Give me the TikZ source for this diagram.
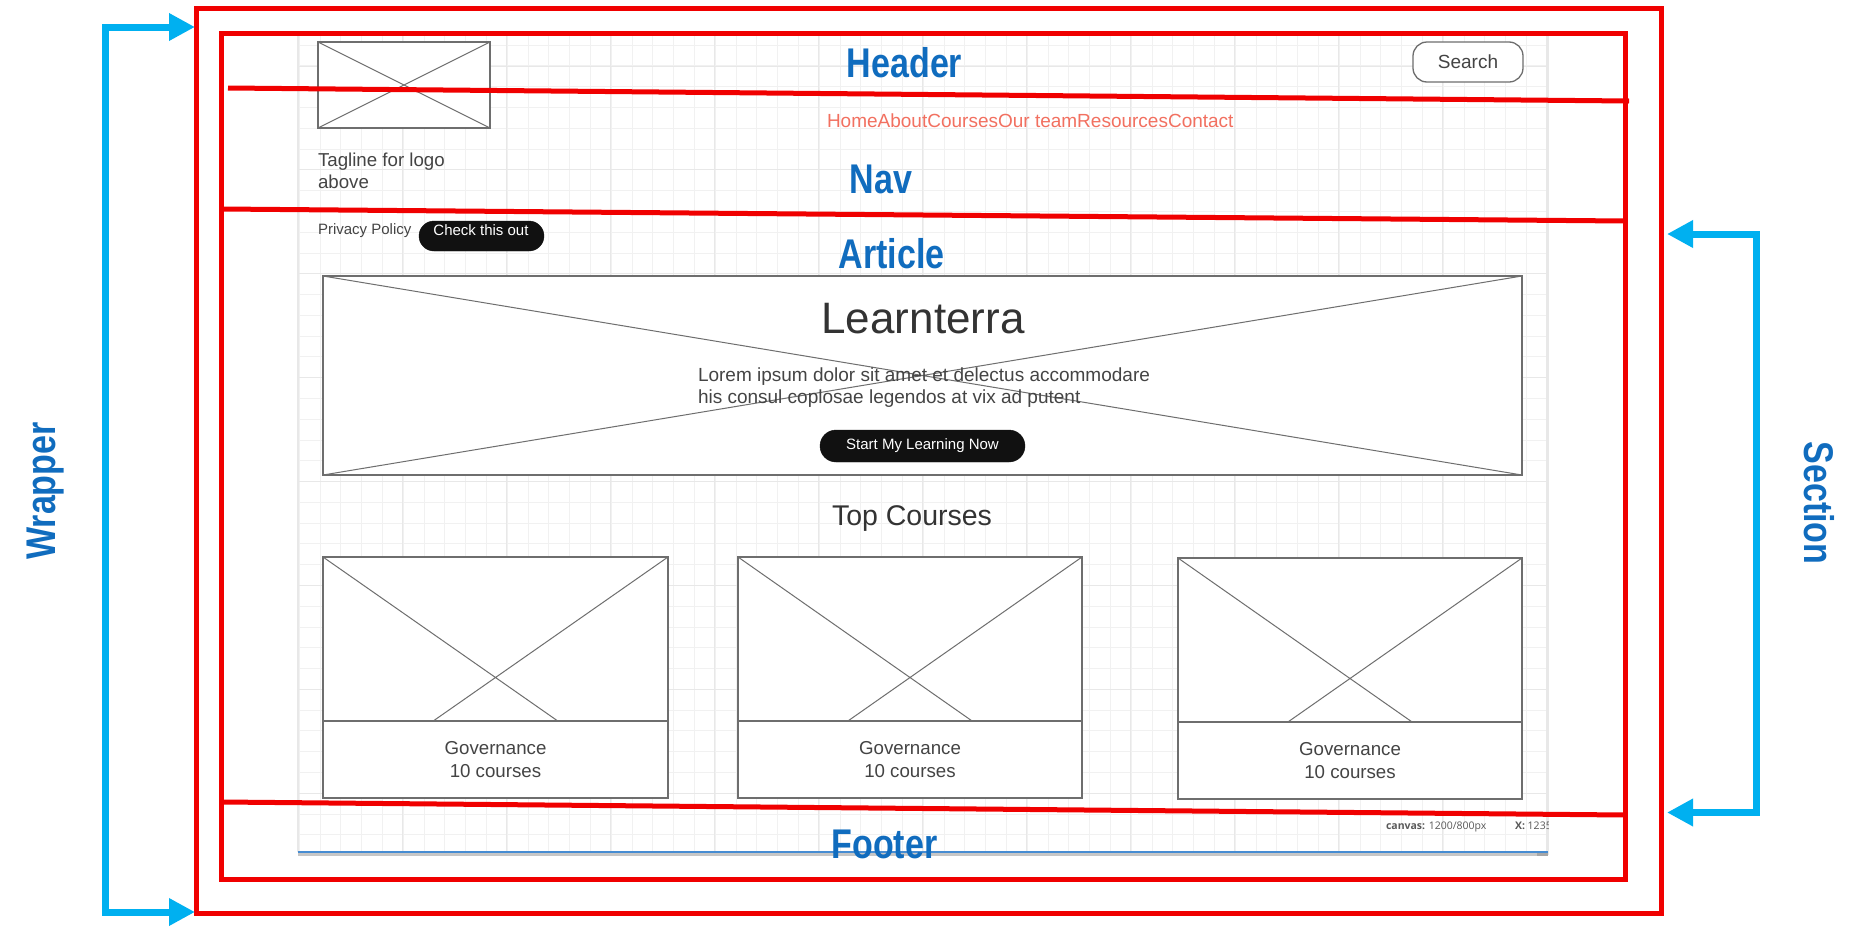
\documentclass[tikz,border=0pt]{standalone}
\usepackage{fontspec}
\setmainfont{Liberation Sans}
\newfontfamily\narrowfont{Liberation Sans}[FakeStretch=0.82]
\newfontfamily\uifont{Open Sans}
\usetikzlibrary{arrows.meta}
\definecolor{redc}{RGB}{240,0,0}
\definecolor{lblblue}{RGB}{16,108,190}
\definecolor{arrblue}{RGB}{0,176,240}
\definecolor{navc}{RGB}{242,112,96}
\definecolor{wiregray}{RGB}{110,110,110}
\definecolor{txtgray}{RGB}{68,68,68}
\definecolor{darktxt}{RGB}{51,51,51}
\definecolor{gridminor}{RGB}{241,241,241}
\definecolor{gridmajor}{RGB}{232,232,232}
\definecolor{pillblack}{RGB}{17,17,17}
\definecolor{barblue}{RGB}{70,140,210}
\newcommand\pxs[2]{\fontsize{#1}{#2}\selectfont}
\begin{document}
\begin{tikzpicture}[x=1pt,y=-1pt,
  redframe/.style={draw=redc, line width=5pt, inner sep=0pt, outer sep=0pt},
  redline/.style={draw=redc, line width=5pt},
  wirebox/.style={draw=wiregray, line width=1.3pt, fill=white, inner sep=0pt, outer sep=0pt},
  xline/.style={draw=wiregray, line width=1pt},
  pill/.style={fill=pillblack, draw=pillblack, inner sep=0pt, outer sep=0pt},
  wtxt/.style={inner sep=0pt, outer sep=0pt, text=txtgray},
  lbl/.style={inner sep=0pt, outer sep=0pt, text=lblblue, anchor=base, font=\narrowfont\bfseries\pxs{41.5}{41.5}},
  bluearrow/.style={draw=arrblue, line width=7pt, line join=miter,
     {Triangle[length=26pt,width=26pt]}-{Triangle[length=26pt,width=26pt]}},
  gminor/.style={draw=gridminor, line width=1pt},
  gmajor/.style={draw=gridmajor, line width=1pt}
]
\useasboundingbox (0,0) rectangle (1861,940);
\fill[white] (0,0) rectangle (1861,940);

% ---------- canvas grid ----------
\begin{scope}
  \clip (298,35) rectangle (1548,852);
  \foreach \i in {0,...,60} {\draw[gminor] ({299.2+20.8*\i},35) -- ++(0,817);}
  \foreach \j in {0,...,39} {\draw[gminor] (298,{45.2+20.78*\j}) -- ++(1250,0);}
  \foreach \i in {0,...,12} {\draw[gmajor] ({298.7+104*\i},35) -- ++(0,817);}
  \foreach \j in {0,...,8} {\draw[gmajor] (298,{66+103.9*\j}) -- ++(1250,0);}
\end{scope}
\draw[gridmajor, line width=1.2pt] (1548,35) -- (1548,855);
\draw[gridmajor, line width=1.2pt] (298,35) -- (298,852);
\fill[gray!45] (298,852.5) rectangle (1548,855.5);
\fill[gray!70] (1537,852.5) rectangle (1548,855.5);
\draw[barblue, line width=1.4pt] (298,852) -- (1548,852);

% ---------- wireframe: header / nav ----------
\node[wirebox, minimum width=172pt, minimum height=86pt] (logo) at (404,85) {};
\draw[xline] (logo.north west) -- (logo.south east) (logo.north east) -- (logo.south west);
\node[wtxt, anchor=base west, font=\pxs{18.7}{22}] (tag1) at (318,166) {Tagline for logo};
\node[wtxt, anchor=base west, font=\pxs{18.7}{22}] (tag2) at (318,188) {above};
\node[wirebox, rounded corners=14pt, minimum width=110pt, minimum height=40pt, text=txtgray, font=\pxs{19}{19}] (search) at (1468,62) {Search};
\node[wtxt, text=navc, anchor=base west, font=\pxs{19}{19}] (navlinks) at (827,127) {HomeAboutCoursesOur teamResourcesContact};
\node[wtxt, anchor=base west, font=\pxs{15}{15}] (privacy) at (318,234) {Privacy Policy};
\node[pill, rounded corners=15pt, minimum width=125pt, minimum height=30pt] (check) at (481.5,236) {};
\node[wtxt, text=white, anchor=base, font=\pxs{15}{15}] (checktxt) at (481,235) {Check this out};

% ---------- hero ----------
\node[wirebox, minimum width=1199pt, minimum height=199pt] (hero) at (922.5,375.5) {};
\draw[xline] (hero.north west) -- (hero.south east) (hero.north east) -- (hero.south west);
\node[wtxt, text=darktxt, anchor=base, font=\pxs{44}{44}] (title) at (923,333) {Learnterra};
\node[wtxt, anchor=base west, font=\pxs{19}{22}] (lorem1) at (698,381) {Lorem ipsum dolor sit amet et delectus accommodare};
\node[wtxt, anchor=base west, font=\pxs{19}{22}] (lorem2) at (698,403) {his consul coplosae legendos at vix ad putent};
\node[pill, rounded corners=16pt, minimum width=205pt, minimum height=32pt, text=white, font=\pxs{15}{15}] (start) at (922.5,446) {Start My Learning Now};

% ---------- top courses ----------
\node[wtxt, text=darktxt, anchor=base, font=\pxs{28.5}{28.5}] (topc) at (912,525) {Top Courses};

\node[wirebox, minimum width=345pt, minimum height=241pt] (card1) at (495.5,677.5) {};
\draw[xline] (card1.north west) -- (card1.south east) (card1.north east) -- (card1.south west);
\node[wirebox, minimum width=345pt, minimum height=77pt, align=center, text=txtgray, font=\pxs{18.7}{22.5}] (card1txt) at (495.5,759.5) {Governance\\10 courses};

\node[wirebox, minimum width=344pt, minimum height=241pt] (card2) at (910,677.5) {};
\draw[xline] (card2.north west) -- (card2.south east) (card2.north east) -- (card2.south west);
\node[wirebox, minimum width=344pt, minimum height=77pt, align=center, text=txtgray, font=\pxs{18.7}{22.5}] (card2txt) at (910,759.5) {Governance\\10 courses};

\node[wirebox, minimum width=344pt, minimum height=241pt] (card3) at (1350,678.5) {};
\draw[xline] (card3.north west) -- (card3.south east) (card3.north east) -- (card3.south west);
\node[wirebox, minimum width=344pt, minimum height=77pt, align=center, text=txtgray, font=\pxs{18.7}{22.5}] (card3txt) at (1350,760.5) {Governance\\10 courses};

% ---------- status text ----------
\begin{scope}
  \clip (298,815) rectangle (1548,850);
  \node[wtxt, text=black!65, anchor=base west, font=\uifont\pxs{10.5}{10.5}] (canvas) at (1386,829.5) {\textbf{canvas:} 1200/800px};
  \node[wtxt, text=black!65, anchor=base west, font=\uifont\pxs{10.5}{10.5}] (xpos) at (1515,829.5) {\textbf{X:} 1235};
\end{scope}

% ---------- labels ----------
\node[lbl] (header) at (904.5,77.5) {Header};
\node[lbl] (nav) at (881,193) {Nav};
\node[lbl] (article) at (891.5,268.5) {Article};
\node[lbl] (footer) at (884.5,858) {Footer};

% ---------- red frames and separators ----------
\node[redframe, minimum width=1465pt, minimum height=905pt] (wrapper) at (928.5,460.5) {};
\node[redframe, minimum width=1403.5pt, minimum height=846pt] (section) at (923.25,456) {};
\coordinate (h1) at (228,88);   \coordinate (h2) at (1629,101);
\coordinate (n1) at (222,209);  \coordinate (n2) at (1625,221);
\coordinate (f1) at (222,802);  \coordinate (f2) at (1625,815);
\draw[redline] (h1) -- (h2);
\draw[redline] (n1) -- (n2);
\draw[redline] (f1) -- (f2);

% ---------- blue brackets ----------
\coordinate (wt) at (195,27);   \coordinate (wtc) at (105,27);
\coordinate (wbc) at (105,912); \coordinate (wb) at (195,912);
\draw[bluearrow] (wt) -- (wtc) -- (wbc) -- (wb);
\coordinate (st) at (1667,234);   \coordinate (stc) at (1756,234);
\coordinate (sbc) at (1756,812.5); \coordinate (sb) at (1667,812.5);
\draw[bluearrow] (st) -- (stc) -- (sbc) -- (sb);

\node[lbl, rotate=90] (wraplbl) at (55,491) {Wrapper};
\node[lbl, rotate=-90] (sectlbl) at (1804,503) {Section};
\end{tikzpicture}
\end{document}
